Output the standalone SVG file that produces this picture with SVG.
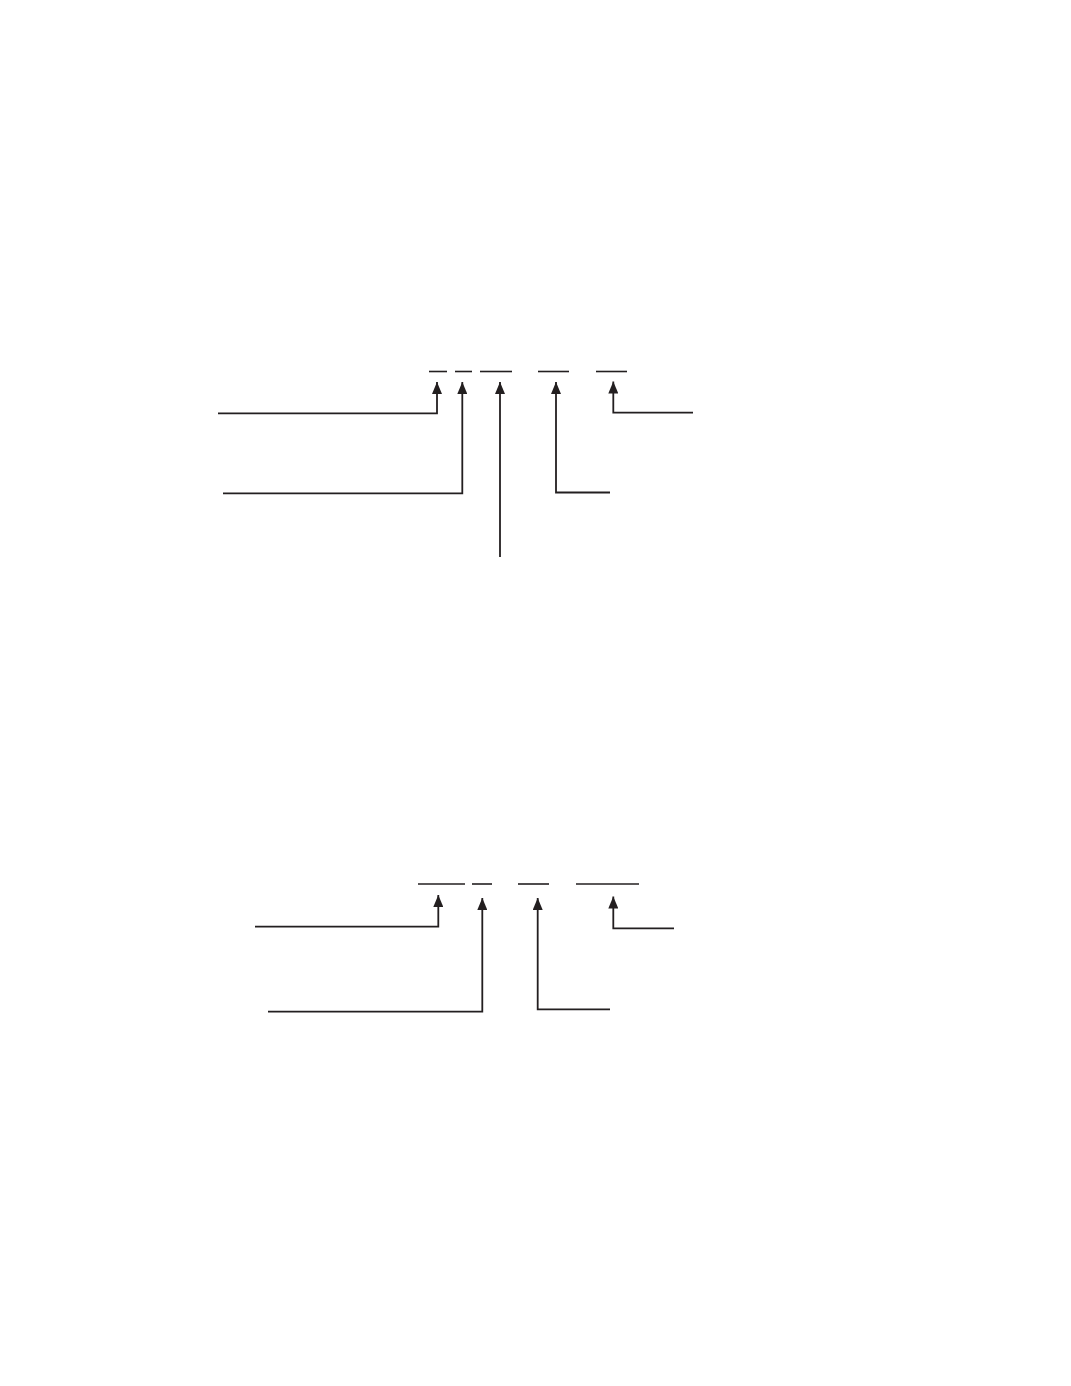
<svg xmlns="http://www.w3.org/2000/svg" width="1071" height="1386" viewBox="0 0 1071 1386">
<style>
.l{fill:none;stroke:#231f20;stroke-width:1.8}
.u{stroke:#231f20;stroke-width:1.6}
</style>
<defs>
<marker id="ah" markerUnits="userSpaceOnUse" markerWidth="12" markerHeight="10" viewBox="0 0 12 10" refX="12" refY="5" orient="auto">
<path d="M0,0 L12,5 L0,10 Z" fill="#231f20"/>
</marker>
</defs>
<rect width="1071" height="1386" fill="#fff"/>
<g id="code1">
<line class="u" x1="429" y1="371.5" x2="447" y2="371.5"/>
<line class="u" x1="455" y1="371.5" x2="472" y2="371.5"/>
<line class="u" x1="480" y1="371.5" x2="512" y2="371.5"/>
<line class="u" x1="538" y1="371.5" x2="569" y2="371.5"/>
<line class="u" x1="596" y1="371.5" x2="627" y2="371.5"/>
</g>
<g id="code2">
<line class="u" x1="418" y1="884" x2="465" y2="884"/>
<line class="u" x1="472" y1="884" x2="492" y2="884"/>
<line class="u" x1="518" y1="884" x2="549" y2="884"/>
<line class="u" x1="576" y1="884" x2="639" y2="884"/>
</g>
<g id="connectors">
<path class="l" marker-end="url(#ah)" d="M218,413.3 H437 V382"/>
<path class="l" marker-end="url(#ah)" d="M223,493.3 H462.3 V382"/>
<path class="l" marker-end="url(#ah)" d="M500,557 V382"/>
<path class="l" marker-end="url(#ah)" d="M610,492.5 H556 V382"/>
<path class="l" marker-end="url(#ah)" d="M693,412.7 H613.3 V381.5"/>
<path class="l" marker-end="url(#ah)" d="M255,926.7 H438.3 V895"/>
<path class="l" marker-end="url(#ah)" d="M268,1011.7 H482.3 V898"/>
<path class="l" marker-end="url(#ah)" d="M610,1009.3 H537.7 V898"/>
<path class="l" marker-end="url(#ah)" d="M674,928.3 H613.3 V896.5"/>
</g>
</svg>
